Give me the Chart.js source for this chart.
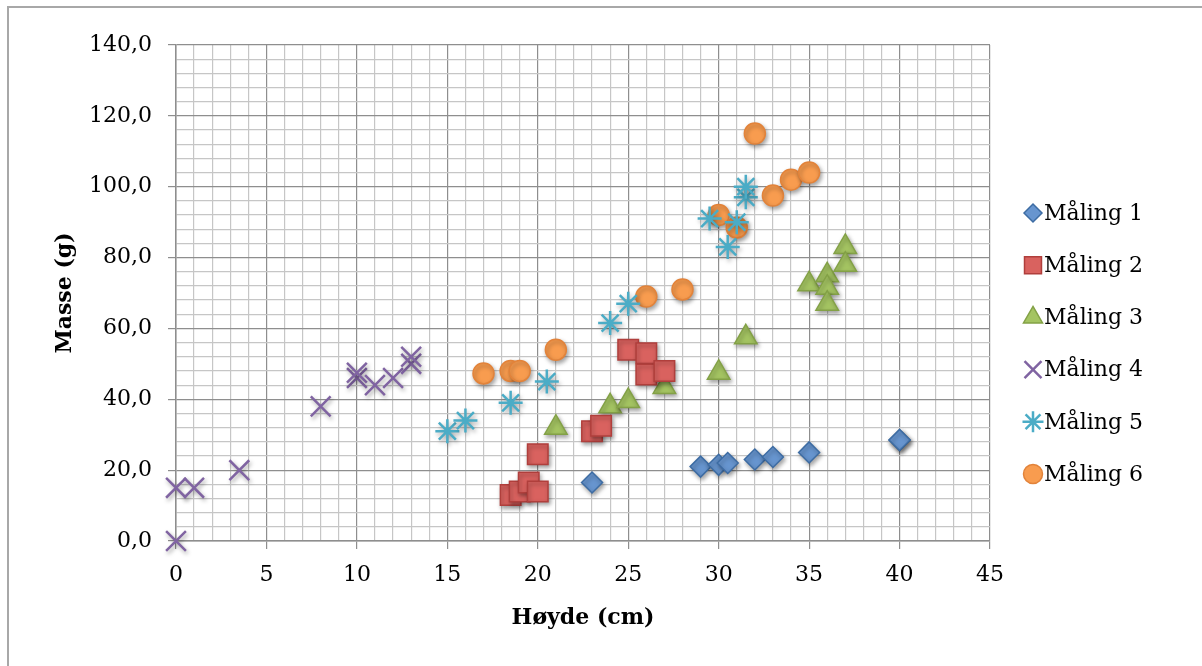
<!DOCTYPE html>
<html>
<head>
<meta charset="utf-8">
<script src="https://cdn.jsdelivr.net/npm/chart.js@4/dist/chart.umd.min.js"></script>
<style>
  body { margin: 0; background: #fff; }
  #wrap { width: 1202px; height: 666px; }
</style>
</head>
<body>
<div id="wrap"><canvas id="scatter" width="1202" height="666"></canvas></div>
<script>
const seriesNames = ['Måling 1', 'Måling 2', 'Måling 3', 'Måling 4', 'Måling 5', 'Måling 6'];

// Høyde (cm) / Masse (g) for each measurement series
const maling1X = [23, 29, 30, 30.5, 32, 33, 35, 40, 40];
const maling1Y = [16.5, 21, 21.5, 22, 23, 23.7, 25, 28.5, 28.5];

const maling2X = [18.5, 19, 19.5, 20, 20, 23, 23.5, 25, 26, 26, 27];
const maling2Y = [13, 14, 16.5, 14, 24.5, 31, 32.5, 54, 53, 47, 48];

const maling3X = [21, 24, 25, 27, 30, 31.5, 35, 36, 36, 36, 37, 37];
const maling3Y = [32, 38, 39.5, 43.5, 47.5, 57.5, 72.5, 75, 71.5, 67, 83, 78];

const maling4X = [0, 0, 1, 3.5, 8, 10, 10, 11, 12, 13, 13];
const maling4Y = [0, 15, 15, 20, 38, 46, 47.5, 44, 46, 50, 52];

const maling5X = [15, 16, 18.5, 20.5, 24, 25, 29.5, 30.5, 31, 31.5, 31.5];
const maling5Y = [31, 34, 39, 45, 61.5, 67, 91, 83, 90, 97, 100];

const maling6X = [17, 18.5, 19, 21, 26, 28, 30, 31, 32, 33, 34, 35];
const maling6Y = [47.3, 48, 48, 54, 69, 71, 92, 88.5, 115, 97.5, 102, 104];

const xTickStep = 1, xMajor = 5, xMax = 45;
const yTickStep = 4, yMajor = 20, yMax = 140;

const FONT = 'DejaVu Serif';
const FSIZE = 22;

function pairs(xs, ys) {
  return xs.map((x, i) => ({x: x, y: ys[i]}));
}

const styles = [
  {pointStyle: 'rectRot', radius: 10.5, bg: '#6795cf', border: '#3d6ca3', bw: 1.5, lr: 9},
  {pointStyle: 'rect', radius: 14.5, bg: '#d9625f', border: '#b03f3c', bw: 1.5, lr: 12},
  {pointStyle: 'triangle', radius: 13, bg: '#a4c462', border: '#83a146', bw: 1.5, lr: 11},
  {pointStyle: 'crossRot', radius: 14, bg: '#8064a2', border: '#8064a2', bw: 2.5, lr: 12},
  {pointStyle: 'star', radius: 12, bg: '#4bacc6', border: '#4bacc6', bw: 2.5, lr: 10.5},
  {pointStyle: 'circle', radius: 10.5, bg: '#f89c4f', border: '#e2833a', bw: 1.5, lr: 9.5}
];

const allX = [maling1X, maling2X, maling3X, maling4X, maling5X, maling6X];
const allY = [maling1Y, maling2Y, maling3Y, maling4Y, maling5Y, maling6Y];

const datasets = seriesNames.map((name, i) => ({
  label: name,
  data: pairs(allX[i], allY[i]),
  pointStyle: styles[i].pointStyle,
  pointRadius: styles[i].radius,
  pointHoverRadius: styles[i].radius,
  backgroundColor: styles[i].bg,
  borderColor: styles[i].border,
  pointBorderWidth: styles[i].bw,
  showLine: false,
  clip: false
}));

// soft drop shadow under the markers
const shadowPlugin = {
  id: 'shadow',
  beforeDatasetsDraw(chart) {
    const c = chart.ctx;
    c.save();
    c.shadowColor = 'rgba(0,0,0,0.35)';
    c.shadowBlur = 4;
    c.shadowOffsetX = 1.5;
    c.shadowOffsetY = 2.5;
  },
  afterDatasetsDraw(chart) {
    chart.ctx.restore();
  }
};

const framePlugin = {
  id: 'frame',
  beforeDraw(chart) {
    const c = chart.ctx;
    c.save();
    c.fillStyle = '#fff';
    c.fillRect(0, 0, chart.width, chart.height);
    c.strokeStyle = '#a8a8a8';
    c.lineWidth = 2;
    c.beginPath();
    c.moveTo(8, chart.height);
    c.lineTo(8, 7);
    c.lineTo(chart.width, 7);
    c.stroke();
    c.restore();
  }
};

const legendPlugin = {
  id: 'sideLegend',
  afterDraw(chart) {
    const c = chart.ctx;
    c.save();
    c.font = FSIZE + 'px "' + FONT + '"';
    c.textBaseline = 'middle';
    seriesNames.forEach((name, i) => {
      const y = 213 + i * 52.2;
      const x = 1033;
      c.fillStyle = styles[i].bg;
      c.strokeStyle = styles[i].border;
      c.lineWidth = styles[i].bw;
      Chart.helpers.drawPoint(c, {pointStyle: styles[i].pointStyle, radius: styles[i].lr, rotation: 0, borderWidth: styles[i].bw}, x, y);
      c.fillStyle = '#000';
      c.fillText(name, 1044, y + 1);
    });
    c.restore();
  }
};

new Chart(document.getElementById('scatter'), {
  type: 'scatter',
  data: {datasets: datasets},
  options: {
    responsive: false,
    animation: false,
    layout: {padding: {left: 0, right: 212, top: 45, bottom: 0}},
    plugins: {legend: {display: false}, tooltip: {enabled: false}},
    scales: {
      x: {
        type: 'linear',
        min: 0,
        max: xMax,
        afterFit(scale) { scale.height = 125; },
        ticks: {
          stepSize: xTickStep,
          autoSkip: false,
          maxRotation: 0,
          padding: 13,
          color: '#000',
          font: {family: FONT, size: FSIZE},
          callback: v => (v % xMajor === 0 ? String(v) : '')
        },
        grid: {
          color: c => (c.tick && c.tick.value % xMajor === 0 ? '#8e8e8e' : '#c6c6c6'),
          tickColor: c => (c.tick && c.tick.value % xMajor === 0 ? '#8e8e8e' : 'rgba(0,0,0,0)'),
          tickLength: 8,
          lineWidth: 1.2
        },
        border: {color: '#8e8e8e', width: 1.5},
        title: {
          display: true,
          text: 'Høyde (cm)',
          color: '#000',
          font: {family: FONT, size: FSIZE, weight: 'bold'},
          padding: {top: 10, bottom: 35}
        }
      },
      y: {
        type: 'linear',
        min: 0,
        max: yMax,
        afterFit(scale) { scale.width = 176; },
        ticks: {
          stepSize: yTickStep,
          autoSkip: false,
          padding: 16,
          color: '#000',
          font: {family: FONT, size: FSIZE},
          callback: v => (v % yMajor === 0 ? v.toFixed(1).replace('.', ',') : '')
        },
        grid: {
          color: c => (c.tick && c.tick.value % yMajor === 0 ? '#8e8e8e' : '#c6c6c6'),
          tickColor: c => (c.tick && c.tick.value % yMajor === 0 ? '#8e8e8e' : 'rgba(0,0,0,0)'),
          tickLength: 8,
          lineWidth: 1.2
        },
        border: {color: '#8e8e8e', width: 1.5},
        title: {
          display: true,
          text: 'Masse (g)',
          color: '#000',
          font: {family: FONT, size: FSIZE, weight: 'bold'},
          padding: {top: 52, bottom: 0}
        }
      }
    }
  },
  plugins: [framePlugin, shadowPlugin, legendPlugin]
});
</script>
</body>
</html>
